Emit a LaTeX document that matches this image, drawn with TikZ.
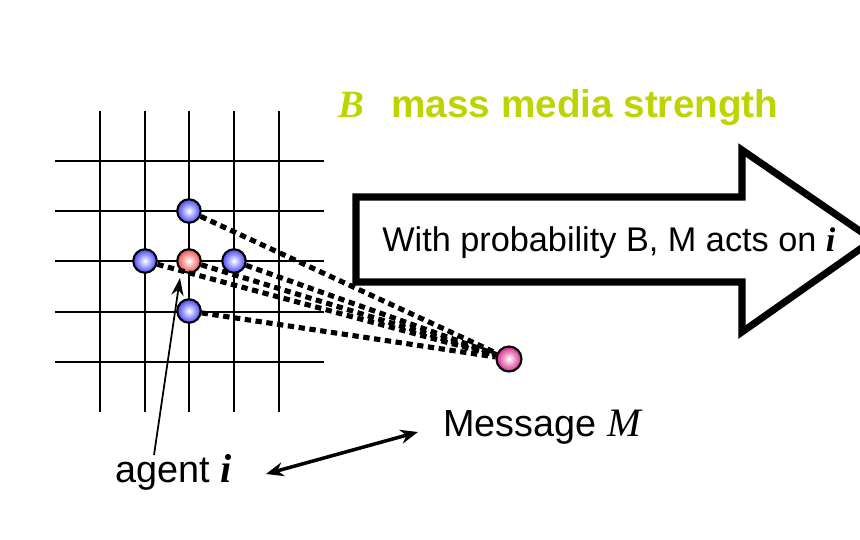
\documentclass[tikz,border=0pt]{standalone}
\usepackage{fontspec}
\setmainfont{Liberation Sans}
\newfontfamily\timesfont{Liberation Serif}
\usetikzlibrary{arrows.meta}

\definecolor{mediagreen}{RGB}{190,212,0}
\definecolor{agentblue}{RGB}{70,70,250}
\definecolor{selfred}{RGB}{240,80,80}
\definecolor{msgpink}{RGB}{214,40,140}

\tikzset{
  ball/.style={circle, draw, line width=1.2pt, minimum size=0.47cm, inner sep=0pt},
  agentball/.style={ball, inner color=white, outer color=agentblue},
  selfball/.style={ball, inner color=white, outer color=selfred},
  msgball/.style={ball, minimum size=0.5cm, inner color=white, outer color=msgpink},
  medialink/.style={line width=2.9pt, dash pattern=on 3.6pt off 2.6pt},
  gridline/.style={line width=1.1pt}
}

\begin{document}
\begin{tikzpicture}[x=0.02cm, y=-0.02cm, >=Stealth]
  \useasboundingbox (0,0) rectangle (860,540);

  % --- lattice of agents ---
  \foreach \k in {0,...,4} {
    \draw[gridline] ({100+44.7*\k},111) -- ({100+44.7*\k},412);
    \draw[gridline] (55,{161+50.2*\k}) -- (324,{161+50.2*\k});
  }

  % --- agent i and its neighbours ---
  \node[selfball]  (self)  at (189,261) {};
  \node[agentball] (up)    at (189,211) {};
  \node[agentball] (left)  at (145,261) {};
  \node[agentball] (right) at (234,261) {};
  \node[agentball] (down)  at (189,311) {};

  % --- the message ---
  \node[msgball] (msg) at (509,359) {};
  \foreach \n in {up,left,self,right,down}
    \draw[medialink] (\n) -- (msg);

  % --- big arrow of the mass media ---
  \draw[line width=4pt, miter limit=20]
    (356,197) -- (742,197) -- (742,150) -- (873,240)
    -- (742,332) -- (742,282) -- (356,282) -- cycle;
  \node[anchor=base west, inner sep=0pt, font=\fontsize{19.5}{22}\selectfont] (act) at (382,252)
    {With probability B, M acts on {\timesfont\bfseries\itshape i}};

  \node[anchor=base west, inner sep=0pt, text=mediagreen, font=\fontsize{22}{26}\selectfont\bfseries] (title) at (338,118)
    {{\timesfont\itshape B}\hspace{0.55cm}mass media strength};

  % --- labels ---
  \node[anchor=base west, inner sep=0pt, font=\fontsize{21.5}{24}\selectfont] (msglabel) at (443,437)
    {Message {\timesfont\itshape\fontsize{23}{24}\selectfont M}};
  \node[anchor=base west, inner sep=0pt, font=\fontsize{21.5}{24}\selectfont] (agent) at (115,483)
    {agent {\timesfont\bfseries\itshape\fontsize{23}{24}\selectfont i}};

  \coordinate (agenttail) at (154,455);
  \coordinate (agenttip)  at (180,278);
  \draw[line width=1pt, -{Stealth[length=10pt, width=7pt]}] (agenttail) -- (agenttip);

  \coordinate (pairleft)  at (266,474);
  \coordinate (pairright) at (418,432);
  \draw[line width=2pt, {Stealth[length=10pt, width=8pt]}-{Stealth[length=10pt, width=8pt]}] (pairleft) -- (pairright);
\end{tikzpicture}
\end{document}
